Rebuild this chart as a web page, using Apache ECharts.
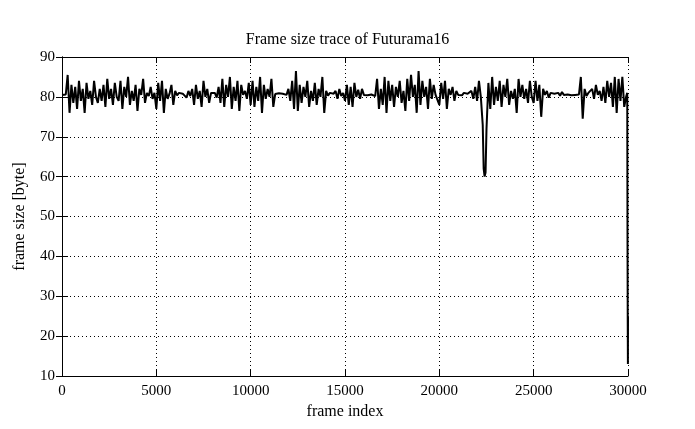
<!DOCTYPE html>
<html><head><meta charset="utf-8">
<script src="https://cdn.jsdelivr.net/npm/echarts@6/dist/echarts.min.js"></script>
<style>html,body{margin:0;padding:0;background:#fff}#c{width:695px;height:429px}</style>
</head><body><div id="c"></div>
<script>
const titleText = 'Frame size trace of Futurama16';
const xName = 'frame index';
const yName = 'frame size [byte]';
const frameStep = 100;
// frame sizes, one every 100 frames
const frameSizes = [
80.5,80.5,80.6,85.5,76,83,78.5,82.5,77,84,
79,82,76,83.5,79.5,81.5,78,84,80,78.5,
82,79,83,77.5,84.5,79.5,82,78,83.5,80,
79,84,77,82.5,80,85,78,81.5,79,83,
76.5,82,80.5,84.5,78.5,81,80.2,82.5,79.5,81,
77,83.5,79,84,76,82,79.5,80.8,83,78,
81.5,80.4,81,80.6,80.8,81.2,79.8,81.5,80.2,82,
78,83,79.5,81.5,77.5,84,80,82,78.5,81,
80.5,81,79.8,82.5,78.5,84.5,77.5,83,80,85,
77,82.5,79,84,76.5,83,80.5,81.5,79.5,83.5,
78,84,77.5,82.5,79,85,76,83,79.5,82,
80,84.5,77.5,80.7,80.5,80.9,80.6,80.8,81,80.5,
82,79,84,77,86.5,76.5,83,78.5,82.5,80,
84,77.5,81.5,79,83.5,78,82,80,85,76,
81.5,80.3,81,80.5,80.8,81.5,79.5,82,80.2,81,
79,83,78,82.5,77.5,83.5,80,81.8,79.5,82,
80.5,80.8,80.4,80.9,80.6,81,80.2,84.5,77,82,
78,85,76,84,79,83,77.5,82.5,80,84,
78.5,81.5,76.5,84.5,79,85.5,80,83,76,86.5,
78,84,80,82.5,77,84.5,79.5,83,80.5,81,
78,83.5,79.5,84,77,82,80.5,82.5,79,81.5,
80.5,80.8,80.4,81,80.6,80.8,80.3,81.5,79.5,82.5,
79,84,80,73,60,72,83.5,77,85,78,
82.5,79,84,77.5,83,80,84.5,78,81.5,79.5,
82,76,84.5,80,83,79.5,82,78.5,84,80,
78.5,84,79,83,75,82,80.5,81.5,79.8,81,
80.6,80.8,80.4,81,80.3,81.2,80.5,80.7,80.6,80.9,
80.4,80.8,80.5,81,80.6,85,74.5,82,80.2,81,
80.5,82,79.5,83,80.5,81.5,79,82.5,78.5,84,
80,83.5,77.5,85,76,84.5,79,85,77.5,80
];
// extra samples inside the dip near frame 22400 and the drop at the end
const extraFrames = [22350, 22450, 29960, 29975, 29985, 29995, 30000];
const extraSizes  = [62, 61, 81, 43, 25, 13, 25];

const data = frameSizes.map((v, i) => [i * frameStep, v]);
extraFrames.forEach((f, i) => data.push([f, extraSizes[i]]));
data.sort((a, b) => a[0] - b[0]);

const font = 'Liberation Serif, Times New Roman, serif';
const chart = echarts.init(document.getElementById('c'), null, {renderer: 'canvas'});
const dotted = {show: true, lineStyle: {color: '#000', width: 1, type: [1, 3]}};
const tick = {show: true, inside: true, length: 6, lineStyle: {color: '#000'}};
const frame = {show: true, lineStyle: {color: '#000', width: 1}};
chart.setOption({
  animation: false,
  backgroundColor: '#fff',
  title: {text: titleText, left: 'center', top: 27, textStyle: {fontFamily: font, fontSize: 16, fontWeight: 'normal', color: '#000'}},
  grid: {left: 62, right: 67, top: 57, bottom: 53},
  xAxis: [{
    type: 'value', min: 0, max: 30000, interval: 5000,
    name: xName, nameLocation: 'middle', nameGap: 27,
    nameTextStyle: {fontFamily: font, fontSize: 16, color: '#000'},
    axisLine: frame, axisTick: tick,
    axisLabel: {fontFamily: font, fontSize: 15, color: '#000', margin: 8, formatter: v => String(v)},
    splitLine: dotted
  }, {
    type: 'value', min: 0, max: 30000, interval: 5000, position: 'top',
    axisLine: frame, axisTick: tick, axisLabel: {show: false}, splitLine: {show: false}
  }],
  yAxis: [{
    type: 'value', min: 10, max: 90, interval: 10,
    name: yName, nameLocation: 'middle', nameGap: 34, nameRotate: 90,
    nameTextStyle: {fontFamily: font, fontSize: 16, color: '#000'},
    axisLine: frame, axisTick: tick,
    axisLabel: {fontFamily: font, fontSize: 15, color: '#000', margin: 7},
    splitLine: dotted
  }, {
    type: 'value', min: 10, max: 90, interval: 10, position: 'right',
    axisLine: frame, axisTick: tick, axisLabel: {show: false}, splitLine: {show: false}
  }],
  series: [{
    type: 'line', data: data, showSymbol: false, symbol: 'none',
    lineStyle: {color: '#000', width: 2}, z: 5
  }]
});
</script></body></html>
